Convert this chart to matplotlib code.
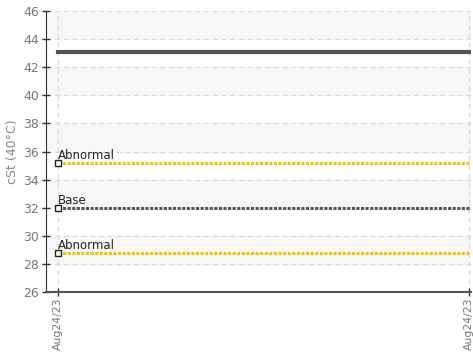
import matplotlib
matplotlib.use("Agg")
import matplotlib.pyplot as plt

# data
x_pos = [0, 1]
x_labels = ["Aug24/23", "Aug24/23"]
measured = [43.1, 43.1]
limit_names = ["Abnormal", "Base", "Abnormal"]
limit_values = [35.2, 32.0, 28.8]
limit_colors = ["#f2c400", "#555555", "#f2c400"]
y_ticks = list(range(26, 47, 2))

plt.rcParams["font.family"] = ["DejaVu Sans"]

fig = plt.figure(figsize=(4.73, 3.55), dpi=100)
ax = fig.add_axes([0.0973, 0.177, 0.899, 0.792])

# bandas alternadas
for lo in range(28, 46, 4):
    ax.axhspan(lo, lo + 2, color="#f7f7f7", zorder=0)

ax.plot(x_pos, measured, color="#555555", lw=3, zorder=3)

for name, val, col in zip(limit_names, limit_values, limit_colors):
    ax.plot(x_pos, [val, val], color=col, lw=2.2, ls=(0, (1, 0.5)), zorder=3)
    ax.plot([x_pos[0]], [val], marker="s", ms=5, mfc="white", mec="#222",
            mew=1, zorder=4)
    ax.annotate(name, (x_pos[0], val), xytext=(0, 3), textcoords="offset points",
                fontsize=8.5, color="#222", ha="left", va="baseline")

ax.set_xlim(-0.03, 1.005)
ax.set_ylim(26, 46)
ax.set_yticks(y_ticks)
ax.set_xticks(x_pos)
ax.set_xticklabels(x_labels, rotation=90)
ax.grid(True, ls=(0, (4, 3)), color="#d8d8d8", lw=0.9)
ax.set_axisbelow(True)
ax.tick_params(labelcolor="#777", labelsize=9, length=6, width=1,
               direction="inout", color="#333", pad=2)
ax.tick_params(axis="x", labelsize=7.8, pad=1)
for s in ["top", "right"]:
    ax.spines[s].set_visible(False)
ax.spines["left"].set_color("#333")
ax.spines["bottom"].set_color("#555")
ax.spines["bottom"].set_linewidth(1.5)
ax.set_ylabel("cSt (40°C)", color="#888", fontsize=9, labelpad=3)

fig.savefig("out.png", dpi=100)
